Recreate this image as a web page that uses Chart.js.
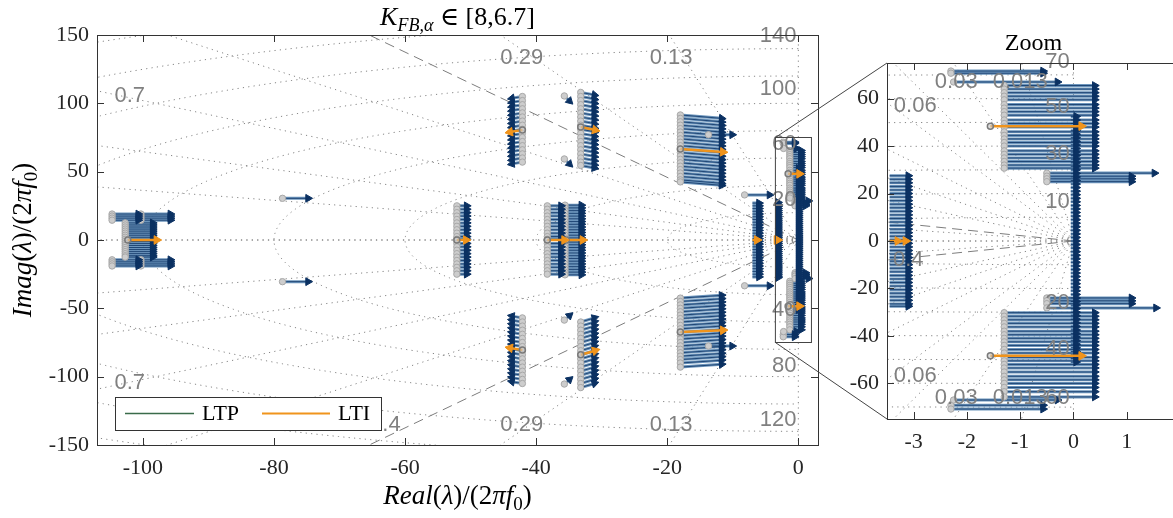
<!DOCTYPE html>
<html>
<head>
<meta charset="utf-8">
<script src="https://cdn.jsdelivr.net/npm/chart.js@4.4.0/dist/chart.umd.min.js"></script>
<style>
  html, body { margin: 0; padding: 0; background: #fff; overflow: hidden; width: 1173px; height: 518px; }
  .wrap { position: absolute; top: 0; }
</style>
</head>
<body>
<div class="wrap" style="left:0;width:1173px;height:518px"><canvas id="main" width="1173" height="518"></canvas></div>
<div class="wrap" style="left:830px;width:360px;height:518px"><canvas id="zoom" width="360" height="518"></canvas></div>
<script>
// ---- values ----
const mainXTicks = [-100, -80, -60, -40, -20, 0];
const mainYTicks = [-150, -100, -50, 0, 50, 100, 150];
const zoomXTicks = [-3, -2, -1, 0, 1];
const zoomYTicks = [-60, -40, -20, 0, 20, 40, 60];

// LTP eigenvalue shifts: one arrow per y, from x0 to x1 (end y = y + dy)
const ltpLeftTopA   = { x0: -104.7, x1: -100.7, dy: 0, ys: [19, 17.5, 16, 14.5] };
const ltpLeftTopB   = { x0: -100.3, x1: -95.8, dy: 0, ys: [19, 17.5, 16, 14.5] };
const ltpLeftBotA   = { x0: -104.7, x1: -100.7, dy: 0, ys: [-14.5, -16, -17.5, -19] };
const ltpLeftBotB   = { x0: -100.3, x1: -95.8, dy: 0, ys: [-14.5, -16, -17.5, -19] };
const ltpLeftMid    = { x0: -102.7, x1: -98.5, dy: 0, ys: [12.5, 11, 9.5, 8, 6.5, 5, 3.5, 2, 0.5, -1, -2.5, -4, -5.5, -7, -8.5, -10, -11.5, -12.5] };
const ltpSingle79   = { x0: -78.7, x1: -74.8, dy: 0, ys: [30.5, -30.5] };
const ltpBlock52    = { x0: -52.1, x1: -50.6, dy: 0, ys: [25, 22.5, 20, 17.5, 15, 12.5, 10, 7.5, 5, 2.5, 0.5, -2.5, -5, -7.5, -10, -12.5, -15, -17.5, -20, -22.5, -25] };
const ltpBlock38    = { x0: -38.3, x1: -36.2, dy: 0, ys: [25, 22.5, 20, 17.5, 15, 12.5, 10, 7.5, 5, 2.5, 0.5, -2.5, -5, -7.5, -10, -12.5, -15, -17.5, -20, -22.5, -25] };
const ltpBlock35    = { x0: -35.6, x1: -33.1, dy: 0, ys: [25.5, 23.5, 21.5, 19.5, 17.5, 15.5, 13.5, 11.5, 9.5, 7.5, 5.5, 3.5, 1.5, -1.5, -3.5, -5.5, -7.5, -9.5, -11.5, -13.5, -15.5, -17.5, -19.5, -21.5, -23.5, -25.5] };
const ltpUp43       = { x0: -42.1, x1: -43.7, dy: -1.3, ys: [105, 102, 99, 96, 93, 90, 87, 84, 81, 78, 75, 72, 69, 66, 63, 60, 57] };
const ltpLo43       = { x0: -42.1, x1: -43.7, dy: 1.3, ys: [-57, -60, -63, -66, -69, -72, -75, -78, -81, -84, -87, -90, -93, -96, -99, -102, -105] };
const ltpUpSmall36  = { x0: -35.7, x1: -34.9, dy: -3.7, ys: [105.4, 59.3] };
const ltpLoSmall36  = { x0: -35.7, x1: -34.9, dy: 3.3, ys: [-105.4, -58.6] };
const ltpUp33       = { x0: -33.2, x1: -31.1, dy: -1.8, ys: [108, 105, 102, 99, 96, 93, 90, 87, 84, 81, 78, 75, 72, 69, 66, 63, 60, 57, 54.5] };
const ltpLo33       = { x0: -33.2, x1: -31.1, dy: 3, ys: [-60, -63, -66, -69, -72, -75, -78, -81, -84, -87, -90, -93, -96, -99, -102, -105, -108] };
const ltpUp18       = { x0: -18.0, x1: -11.7, dy: -2.5, ys: [91.5, 89, 86.5, 84, 81.5, 79, 76.5, 74, 71.5, 69, 66.5, 64, 61.5, 59, 56.5, 54, 51.5, 49, 46.5, 44, 42.5] };
const ltpLo18       = { x0: -18.0, x1: -11.7, dy: 2, ys: [-42.5, -45, -47.5, -50, -52.5, -55, -57.5, -60, -62.5, -65, -67.5, -70, -72.5, -75, -77.5, -80, -82.5, -85, -87.5, -90, -93] };
const ltpSingle14   = { x0: -13.7, x1: -10.1, dy: 0, ys: [77, -77.6] };
const ltpSingle8    = { x0: -8.2, x1: -4.4, dy: 0, ys: [33, -33.5] };
const ltpBar7       = { x0: -7.0, x1: -6.0, dy: 0, start: false, ys: [27, 25, 23, 21, 19, 17, 15, 13, 11, 9, 7, 5, 3, 1, -1, -3, -5, -7, -9, -11, -13, -15, -17, -19, -21, -23, -25, -27] };
const ltpBar3       = { x0: -3.45, x1: -3.1, dy: 0, start: false, ys: [27.5, 26, 24.5, 23, 21.5, 20, 18.5, 17, 15.5, 14, 12.5, 11, 9.5, 8, 6.5, 5, 3.5, 2, 0.5, -1, -2.5, -4, -5.5, -7, -8.5, -10, -11.5, -13, -14.5, -16, -17.5, -19, -20.5, -22, -23.5, -25, -26.5, -27.5] };
const ltpBar0       = { x0: -0.05, x1: 0.05, dy: 0, start: false, ys: [52.5, 51, 49.5, 48, 46.5, 45, 43.5, 42, 40.5, 39, 37.5, 36, 34.5, 33, 31.5, 30, 28.5, 27, 25.5, 24, 22.5, 21, 19.5, 18, 16.5, 15, 13.5, 12, 10.5, 9, 7.5, 6, 4.5, 3, 1.5, 0, -1.5, -3, -4.5, -6, -7.5, -9, -10.5, -12, -13.5, -15, -16.5, -18, -19.5, -21, -22.5, -24, -25.5, -27, -28.5, -30, -31.5, -33, -34.5, -36, -37.5, -39, -40.5, -42, -43.5, -45, -46.5, -48, -49.5, -51] };
const ltpUpBlock1   = { x0: -1.3, x1: 0.4, dy: 0, ys: [65.5, 64, 62.5, 61, 59.5, 57.5, 56, 54.5, 53, 51, 49.5, 48, 46, 44.5, 43, 41.5, 40, 38, 36.5, 35, 33.5, 32, 30.7] };
const ltpLoBlock1   = { x0: -1.3, x1: 0.4, dy: 0, ys: [-30.2, -31.7, -33.2, -34.7, -36.2, -38, -39.5, -41, -42.5, -44, -45.7, -47.2, -49, -50.5, -52, -53.5, -55.2, -57, -58.5, -60, -61.7, -63.5, -65.7] };
const ltpUpTopA     = { x0: -2.3, x1: -0.57, dy: 0, ys: [71.6, 70.7] };
const ltpUpTopB     = { x0: -2.25, x1: -0.3, dy: 0, ys: [67] };
const ltpLoTopA     = { x0: -2.3, x1: -0.57, dy: 0, ys: [-69.2, -70.8] };
const ltpLoTopB     = { x0: -2.25, x1: -0.3, dy: 0, ys: [-67] };
const ltpUp27A      = { x0: -0.5, x1: 1.52, dy: 0, ys: [28.6] };
const ltpUp27B      = { x0: -0.5, x1: 1.09, dy: 0, ys: [27.3, 26.2, 25] };
const ltpLo27A      = { x0: -0.5, x1: 1.09, dy: 0, ys: [-24, -25.2, -26.4] };
const ltpLo27B      = { x0: -0.5, x1: 1.55, dy: 0, ys: [-28.2] };

const ltpGroups = [ltpLeftTopA, ltpLeftTopB, ltpLeftBotA, ltpLeftBotB, ltpLeftMid, ltpSingle79,
  ltpBlock52, ltpBlock38, ltpBlock35, ltpUp43, ltpLo43, ltpUpSmall36, ltpLoSmall36, ltpUp33, ltpLo33,
  ltpUp18, ltpLo18, ltpSingle14, ltpSingle8, ltpBar7, ltpBar3, ltpBar0, ltpUpBlock1, ltpLoBlock1,
  ltpUpTopA, ltpUpTopB, ltpLoTopA, ltpLoTopB, ltpUp27A, ltpUp27B, ltpLo27A, ltpLo27B];

// LTI eigenvalue shifts
const ltiX0 = [-102.3, -52.1, -38.3, -35.4, -42.1, -42.1, -33.2, -33.2, -18.0, -18.0, -7.0, -3.45, -3.35, -1.56, -1.56];
const ltiY0 = [0, 0, 0, 0, 80.5, -80.5, 82.7, -84, 66.6, -67.3, 0, 0, 0, 48.4, -48.4];
const ltiX1 = [-97.9, -50.7, -35.7, -32.9, -44.0, -44.0, -31.0, -31.0, -11.5, -11.5, -6.3, -3.3, -3.15, 0.15, 0.15];
const ltiY1 = [0, 0, 0, 0, 79, -79, 80.5, -81, 64.4, -66, 0, 0, 0, 48.4, -48.4];
const ltiMark = [1, 1, 1, 1, 1, 1, 1, 1, 1, 1, 0, 0, 0, 1, 1];

// damping / natural frequency grid
const mainZeta = [0, 0.13, 0.29, 0.54, 0.7, 0.84, 0.94, 1];
const mainWn = [20, 40, 60, 80, 100, 120, 140, 160, 180, 200, 220];
const mainZetaLabelText = ['0.7', '0.7', '0.29', '0.29', '0.13', '0.13', '0.4'];
const mainZetaLabelX = [-102, -102, -42.2, -42.2, -19.4, -19.4, -63];
const mainZetaLabelY = [105.4, -104.7, 133, -135, 133, -135, -135];
const mainWnLabelText = ['140', '100', '60', '20', '40', '80', '120'];
const mainWnLabelY = [149, 110.5, 70, 29, -51, -92, -132];

const zoomZeta = [0, 0.013, 0.03, 0.045, 0.06, 0.09, 0.13, 0.2, 0.55, 1];
const zoomWn = [10, 20, 30, 40, 50, 60, 70, 80];
const zoomZetaLabelText = ['0.06', '0.06', '0.03', '0.03', '0.013', '0.013', '0.4'];
const zoomZetaLabelX = [-2.97, -2.97, -2.2, -2.2, -1.0, -1.0, -3.1];
const zoomZetaLabelY = [57, -57, 67, -66, 67, -66, -8];
const zoomWnLabelText = ['70', '50', '30', '10', '20', '40', '60'];
const zoomWnLabelY = [75.4, 56.4, 36.6, 16.4, -26, -45.5, -66];

const limitZeta = 0.4;   // dashed line
const zoomBox = [-3.5, 2, -75, 75];

// ---- styling ----
const NAVY = '#0b3162';
const SHAFT = 'rgba(95,140,182,0.92)';
const ORANGE = '#f0941c';
const GRIDC = '#858585';
const LABELC = '#808080';
const AXC = '#333333';
const SERIF = '"Liberation Serif", "DejaVu Serif", serif';
const SANS = '"Liberation Sans", Arial, sans-serif';

function arrowDatasets() {
  const shafts = [], heads = [], starts = [];
  ltpGroups.forEach(g => {
    g.ys.forEach(y => {
      shafts.push({ x: g.x0, y: y }, { x: g.x1, y: y + g.dy }, { x: g.x1, y: null });
      heads.push({ x: g.x1, y: y + g.dy, x0: g.x0, y0: y });
      if (g.start !== false) starts.push({ x: g.x0, y: y });
    });
  });
  const ltiShafts = [], ltiHeads = [], ltiStarts = [];
  ltiX0.forEach((x0, i) => {
    ltiShafts.push({ x: x0, y: ltiY0[i] }, { x: ltiX1[i], y: ltiY1[i] }, { x: ltiX1[i], y: null });
    ltiHeads.push({ x: ltiX1[i], y: ltiY1[i], x0: x0, y0: ltiY0[i] });
    if (ltiMark[i]) ltiStarts.push({ x: x0, y: ltiY0[i] });
  });
  const rot = c => {
    const r = c.raw;
    if (!r || r.x0 === undefined) return 90;
    const s = c.chart.scales;
    const dx = s.x.getPixelForValue(r.x) - s.x.getPixelForValue(r.x0);
    const dy = s.y.getPixelForValue(r.y) - s.y.getPixelForValue(r.y0);
    return 90 + Math.atan2(dy, dx) * 180 / Math.PI;
  };
  return [
    { data: shafts, showLine: true, pointRadius: 0, borderColor: SHAFT, borderWidth: 3, order: 8 },
    { data: shafts, showLine: true, pointRadius: 0, borderColor: NAVY, borderWidth: 0.8, order: 7 },
    { data: starts, showLine: false, pointRadius: 3.2, pointStyle: 'circle', backgroundColor: '#cdcdcd', borderColor: '#a8a8a8', borderWidth: 1, order: 6 },
    { data: heads, showLine: false, pointRadius: 4.5, pointStyle: 'triangle', pointRotation: rot, backgroundColor: NAVY, borderColor: NAVY, borderWidth: 1, order: 5 },
    { data: ltiShafts, showLine: true, pointRadius: 0, borderColor: ORANGE, borderWidth: 2.5, order: 3 },
    { data: ltiStarts, showLine: false, pointRadius: 3, pointStyle: 'circle', backgroundColor: 'rgba(200,200,200,0.6)', borderColor: '#7a7a7a', borderWidth: 1.5, order: 2 },
    { data: ltiHeads, showLine: false, pointRadius: 5, pointStyle: 'triangle', pointRotation: rot, backgroundColor: ORANGE, borderColor: ORANGE, borderWidth: 1, order: 1 }
  ];
}

function sgrid(g) {
  return {
    id: 'sgrid',
    beforeDatasetsDraw(chart) {
      const { ctx, chartArea: a, scales: { x, y } } = chart;
      ctx.save();
      ctx.beginPath(); ctx.rect(a.left, a.top, a.right - a.left, a.bottom - a.top); ctx.clip();
      ctx.strokeStyle = GRIDC; ctx.lineWidth = 1; ctx.setLineDash([1.2, 4.2]);
      const ox = x.getPixelForValue(0), oy = y.getPixelForValue(0);
      const ray = z => [1, -1].forEach(sg => {
        ctx.beginPath(); ctx.moveTo(ox, oy);
        ctx.lineTo(x.getPixelForValue(-g.reach * z), y.getPixelForValue(sg * g.reach * Math.sqrt(1 - z * z)));
        ctx.stroke();
      });
      g.zeta.forEach(ray);
      g.wn.forEach(r => {
        ctx.beginPath();
        for (let i = 0; i <= 360; i++) {
          const t = Math.PI / 2 + i * Math.PI / 360;
          const px = x.getPixelForValue(r * Math.cos(t)), py = y.getPixelForValue(r * Math.sin(t));
          if (i) ctx.lineTo(px, py); else ctx.moveTo(px, py);
        }
        ctx.stroke();
      });
      ctx.setLineDash([10, 6]); ctx.strokeStyle = '#7d7d7d';
      ray(limitZeta);
      ctx.restore();
    },
    afterDatasetsDraw(chart) {
      const { ctx, chartArea: a, scales: { x, y } } = chart;
      ctx.save();
      ctx.beginPath(); ctx.rect(a.left, a.top - 12, a.right - a.left, a.bottom - a.top + 24); ctx.clip();
      ctx.fillStyle = LABELC; ctx.font = '22px ' + SANS; ctx.textBaseline = 'middle';
      ctx.textAlign = 'center';
      g.zText.forEach((t, i) => ctx.fillText(t, x.getPixelForValue(g.zX[i]), y.getPixelForValue(g.zY[i])));
      ctx.textAlign = 'right';
      g.wText.forEach((t, i) => ctx.fillText(t, x.getPixelForValue(g.wX), y.getPixelForValue(g.wY[i])));
      ctx.restore();
    },
    afterDraw(chart) {
      const { ctx, chartArea: a, scales: { x, y } } = chart;
      ctx.save();
      ctx.strokeStyle = AXC; ctx.lineWidth = 1; ctx.setLineDash([]);
      ctx.strokeRect(Math.round(a.left) + 0.5, Math.round(a.top) + 0.5, Math.round(a.right - a.left), Math.round(a.bottom - a.top));
      ctx.beginPath();
      g.xt.forEach(v => {
        const px = Math.round(x.getPixelForValue(v)) + 0.5;
        ctx.moveTo(px, a.bottom); ctx.lineTo(px, a.bottom - 7);
        ctx.moveTo(px, a.top); ctx.lineTo(px, a.top + 7);
      });
      g.yt.forEach(v => {
        const py = Math.round(y.getPixelForValue(v)) + 0.5;
        ctx.moveTo(a.left, py); ctx.lineTo(a.left + 7, py);
        ctx.moveTo(a.right, py); ctx.lineTo(a.right - 7, py);
      });
      ctx.stroke();
      ctx.restore();
      if (g.extra) g.extra(chart);
    }
  };
}

function drawRich(ctx, parts, cx, cy, size, rot) {
  ctx.save();
  ctx.translate(cx, cy);
  if (rot) ctx.rotate(rot);
  const font = p => (p.it ? 'italic ' : '') + (p.sub ? Math.round(size * 0.7) : size) + 'px ' + SERIF;
  let w = 0;
  parts.forEach(p => { ctx.font = font(p); p.w = ctx.measureText(p.t).width; w += p.w; });
  let px = -w / 2;
  ctx.fillStyle = '#000'; ctx.textBaseline = 'alphabetic'; ctx.textAlign = 'left';
  parts.forEach(p => { ctx.font = font(p); ctx.fillText(p.t, px, size * 0.35 + (p.sub ? size * 0.22 : 0)); px += p.w; });
  ctx.restore();
}

function scales(xmin, xmax, ymin, ymax, xt, yt, xh, yw, xpad) {
  const tickFont = { family: SERIF, size: 22 };
  return {
    x: { type: 'linear', min: xmin, max: xmax, grid: { display: false, drawTicks: false }, border: { display: false },
      afterBuildTicks: s => { s.ticks = xt.map(v => ({ value: v })); },
      afterFit: s => { s.height = xh; },
      ticks: { autoSkip: false, maxRotation: 0, padding: xpad, color: '#262626', font: tickFont, callback: v => String(v) } },
    y: { type: 'linear', min: ymin, max: ymax, grid: { display: false, drawTicks: false }, border: { display: false },
      afterBuildTicks: s => { s.ticks = yt.map(v => ({ value: v })); },
      afterFit: s => { s.width = yw; },
      ticks: { autoSkip: false, padding: 8, color: '#262626', font: tickFont, callback: v => String(v) } }
  };
}

const common = {
  responsive: false, animation: false, events: [],
  plugins: { legend: { display: false }, tooltip: { enabled: false }, title: { display: false } }
};

const zoomChart = new Chart(document.getElementById('zoom'), {
  type: 'scatter',
  data: { datasets: arrowDatasets() },
  options: Object.assign({}, common, {
    layout: { padding: { left: 0, right: 10, top: 63, bottom: 0 } },
    scales: scales(zoomBox[0], zoomBox[1], zoomBox[2], zoomBox[3], zoomXTicks, zoomYTicks, 99, 57, 10)
  }),
  plugins: [sgrid({
    zeta: zoomZeta, wn: zoomWn, reach: 300,
    zText: zoomZetaLabelText, zX: zoomZetaLabelX, zY: zoomZetaLabelY,
    wText: zoomWnLabelText, wX: -0.07, wY: zoomWnLabelY,
    xt: zoomXTicks, yt: zoomYTicks,
    extra: chart => {
      const a = chart.chartArea, ctx = chart.ctx;
      ctx.save();
      ctx.fillStyle = '#000'; ctx.font = '24px ' + SERIF; ctx.textAlign = 'center'; ctx.textBaseline = 'middle';
      ctx.fillText('Zoom', (a.left + a.right) / 2, 44);
      ctx.restore();
    }
  })]
});

const mainChart = new Chart(document.getElementById('main'), {
  type: 'scatter',
  data: { datasets: arrowDatasets() },
  options: Object.assign({}, common, {
    layout: { padding: { left: 0, right: 355, top: 35, bottom: 0 } },
    scales: scales(-107, 3, -150, 150, mainXTicks, mainYTicks, 73, 97, 10)
  }),
  plugins: [sgrid({
    zeta: mainZeta, wn: mainWn, reach: 2000,
    zText: mainZetaLabelText, zX: mainZetaLabelX, zY: mainZetaLabelY,
    wText: mainWnLabelText, wX: -0.3, wY: mainWnLabelY,
    xt: mainXTicks, yt: mainYTicks,
    extra: chart => {
      const { ctx, chartArea: a, scales: { x, y } } = chart;
      // zoom rectangle and connectors
      const rx0 = x.getPixelForValue(zoomBox[0]), rx1 = x.getPixelForValue(zoomBox[1]);
      const ry0 = y.getPixelForValue(zoomBox[3]), ry1 = y.getPixelForValue(zoomBox[2]);
      const za = zoomChart.chartArea;
      ctx.save();
      ctx.strokeStyle = '#444'; ctx.lineWidth = 1;
      ctx.strokeRect(rx0, ry0, rx1 - rx0, ry1 - ry0);
      ctx.beginPath();
      ctx.moveTo(rx0, ry0); ctx.lineTo(830 + za.left, za.top);
      ctx.moveTo(rx0, ry1); ctx.lineTo(830 + za.left, za.bottom);
      ctx.stroke();
      // legend
      ctx.fillStyle = '#fff'; ctx.fillRect(115, 397, 266, 33);
      ctx.strokeStyle = AXC; ctx.strokeRect(115.5, 397.5, 266, 33);
      ctx.lineWidth = 1.5; ctx.strokeStyle = '#3a6b4a';
      ctx.beginPath(); ctx.moveTo(125, 413.5); ctx.lineTo(194, 413.5); ctx.stroke();
      ctx.lineWidth = 2; ctx.strokeStyle = ORANGE;
      ctx.beginPath(); ctx.moveTo(262, 413.5); ctx.lineTo(330, 413.5); ctx.stroke();
      ctx.fillStyle = '#000'; ctx.font = '22px ' + SERIF; ctx.textBaseline = 'middle'; ctx.textAlign = 'left';
      ctx.fillText('LTP', 202, 414); ctx.fillText('LTI', 338, 414);
      ctx.restore();
      // title and axis labels
      drawRich(ctx, [{ t: 'K', it: true }, { t: 'FB,α', it: true, sub: true }, { t: ' ∈ [8,6.7]' }], (a.left + a.right) / 2, 16, 26);
      drawRich(ctx, [{ t: 'Real', it: true }, { t: '(' }, { t: 'λ', it: true }, { t: ')/(2' }, { t: 'πf', it: true }, { t: '0', sub: true }, { t: ')' }], (a.left + a.right) / 2, 495, 27);
      drawRich(ctx, [{ t: 'Imag', it: true }, { t: '(' }, { t: 'λ', it: true }, { t: ')/(2' }, { t: 'πf', it: true }, { t: '0', sub: true }, { t: ')' }], 22, (a.top + a.bottom) / 2, 27, -Math.PI / 2);
    }
  })]
});
</script>
</body>
</html>
